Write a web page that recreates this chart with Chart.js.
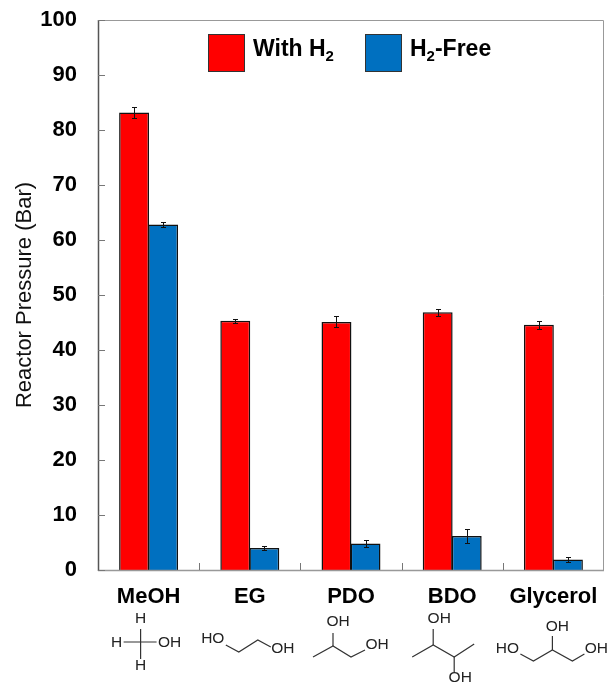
<!DOCTYPE html>
<html>
<head>
<meta charset="utf-8">
<style>
  html, body { margin: 0; padding: 0; background: #fff; }
  #wrap { position: relative; width: 608px; height: 686px; }
</style>
<script src="https://cdn.jsdelivr.net/npm/chart.js@4"></script>
</head>
<body>
<div id="wrap"><canvas id="c" width="608" height="686"></canvas></div>
<script>
'use strict';

const CATEGORIES = ['MeOH', 'EG', 'PDO', 'BDO', 'Glycerol'];
const WITH_H2 = [83.2, 45.3, 45.1, 46.85, 44.6];
const H2_FREE = [62.8, 4.0, 4.8, 6.2, 1.9];
const WITH_H2_ERR = [1.0, 0.4, 1.0, 0.6, 0.7];
const H2_FREE_ERR = [0.4, 0.4, 0.6, 1.25, 0.5];
const Y_TICKS = [0, 10, 20, 30, 40, 50, 60, 70, 80, 90, 100];

const FONT = '"Liberation Sans", Arial, sans-serif';
const RED = '#FF0000';
const BLUE = '#0070C0';

/* 構造式 — カテゴリ中心からのオフセット（px） */
const MOLECULES = [
  {
    lines: [[[-25, 642], [8, 642]], [[-8, 629], [-8, 659]]],
    atoms: [['H', -8, 619], ['H', -32, 643], ['OH', 21, 643], ['H', -8, 666]],
  },
  {
    lines: [[[-24, 645], [-11, 652], [8, 640], [21, 647]]],
    atoms: [['HO', -37, 639], ['OH', 33, 649]],
  },
  {
    lines: [[[-18, 633], [-18, 646]], [[-38, 657], [-18, 646], [0, 657], [14, 650]]],
    atoms: [['OH', -13, 622], ['OH', 26, 645]],
  },
  {
    lines: [[[-19, 629], [-19, 645]], [[-40, 657], [-19, 645], [2, 657], [22, 644]], [[2, 657], [2, 672]]],
    atoms: [['OH', -13, 619], ['OH', 8, 678]],
  },
  {
    lines: [[[-1, 636], [-1, 650]], [[-33, 654], [-20, 661], [-1, 650], [19, 661], [31, 654]]],
    atoms: [['HO', -46, 649], ['OH', 4, 627], ['OH', 43, 649]],
  },
];

const boxAndTicks = {
  id: 'boxAndTicks',
  afterDatasetsDraw(chart) {
    const { ctx, chartArea: a, scales: { x, y } } = chart;
    ctx.save();
    // 上・右・下は薄いグレー、左軸だけ濃い
    ctx.strokeStyle = '#999999';
    ctx.lineWidth = 1;
    ctx.beginPath();
    ctx.moveTo(a.left, a.top + 0.5);
    ctx.lineTo(a.right - 0.5, a.top + 0.5);
    ctx.lineTo(a.right - 0.5, a.bottom);
    ctx.stroke();
    ctx.lineWidth = 1.5;
    ctx.beginPath();
    ctx.moveTo(a.left, a.bottom + 0.5);
    ctx.lineTo(a.right, a.bottom + 0.5);
    ctx.stroke();
    ctx.strokeStyle = '#555555';
    ctx.beginPath();
    ctx.moveTo(a.left + 0.5, a.top);
    ctx.lineTo(a.left + 0.5, a.bottom + 1);
    ctx.stroke();

    ctx.lineWidth = 1;
    ctx.strokeStyle = '#777777';
    ctx.beginPath();
    Y_TICKS.forEach(v => {
      const py = Math.round(y.getPixelForValue(v)) + 0.5;
      ctx.moveTo(a.left, py);
      ctx.lineTo(a.left + 7, py);
    });
    const step = (a.right - a.left) / CATEGORIES.length;
    CATEGORIES.forEach((_, i) => {
      if (i === 0) return;
      const px = Math.round(x.getPixelForValue(i) - step / 2) + 0.5;
      ctx.moveTo(px, a.bottom);
      ctx.lineTo(px, a.bottom - 7);
    });
    ctx.stroke();
    ctx.restore();
  },
};

const errorBars = {
  id: 'errorBars',
  afterDatasetsDraw(chart) {
    const { ctx, scales: { y } } = chart;
    const errs = [WITH_H2_ERR, H2_FREE_ERR];
    ctx.save();
    ctx.strokeStyle = '#111111';
    ctx.lineWidth = 1;
    chart.data.datasets.forEach((ds, d) => {
      chart.getDatasetMeta(d).data.forEach((bar, i) => {
        const px = Math.round(bar.x) + 0.5;
        const hi = Math.round(y.getPixelForValue(ds.data[i] + errs[d][i])) + 0.5;
        const lo = Math.round(y.getPixelForValue(ds.data[i] - errs[d][i])) + 0.5;
        ctx.beginPath();
        ctx.moveTo(px, hi); ctx.lineTo(px, lo);
        ctx.moveTo(px - 2.5, hi); ctx.lineTo(px + 2.5, hi);
        ctx.moveTo(px - 2.5, lo); ctx.lineTo(px + 2.5, lo);
        ctx.stroke();
      });
    });
    ctx.restore();
  },
};

/* 凡例 — H2 の添字を出すため自前で描く */
function drawSubText(ctx, parts, x, y) {
  ctx.textAlign = 'left';
  ctx.textBaseline = 'middle';
  parts.forEach(([t, sub]) => {
    ctx.font = `bold ${sub ? 15 : 23}px ${FONT}`;
    ctx.fillText(t, x, sub ? y + 7 : y);
    x += ctx.measureText(t).width;
  });
}

const h2Legend = {
  id: 'h2Legend',
  afterDraw(chart) {
    const { ctx, chartArea: a } = chart;
    const top = a.top + 14;
    const items = [
      { left: a.left + 110, color: chart.data.datasets[0].backgroundColor, parts: [['With H'], ['2', true]] },
      { left: a.left + 267, color: chart.data.datasets[1].backgroundColor, parts: [['H'], ['2', true], ['-Free']] },
    ];
    ctx.save();
    items.forEach(it => {
      ctx.fillStyle = it.color;
      ctx.strokeStyle = '#333333';
      ctx.lineWidth = 1;
      ctx.fillRect(it.left, top, 37, 38);
      ctx.strokeRect(it.left + 0.5, top + 0.5, 36, 37);
      ctx.fillStyle = '#000';
      drawSubText(ctx, it.parts, it.left + 45, top + 16);
    });
    ctx.restore();
  },
};

const molecules = {
  id: 'molecules',
  afterDraw(chart) {
    const { ctx, scales: { x } } = chart;
    ctx.save();
    ctx.strokeStyle = '#333333';
    ctx.fillStyle = '#222222';
    ctx.lineWidth = 1.2;
    ctx.font = `15.5px ${FONT}`;
    ctx.textAlign = 'center';
    ctx.textBaseline = 'middle';
    MOLECULES.forEach((m, i) => {
      const cx = x.getPixelForValue(i);
      m.lines.forEach(pts => {
        ctx.beginPath();
        pts.forEach(([dx, py], k) => k ? ctx.lineTo(cx + dx, py) : ctx.moveTo(cx + dx, py));
        ctx.stroke();
      });
      m.atoms.forEach(([t, dx, py]) => ctx.fillText(t, cx + dx, py));
    });
    ctx.restore();
  },
};

new Chart(document.getElementById('c'), {
  type: 'bar',
  data: {
    labels: CATEGORIES,
    datasets: [
      { label: 'With H₂', data: WITH_H2, backgroundColor: RED, borderColor: '#111111', borderWidth: 1.5 },
      { label: 'H₂-Free', data: H2_FREE, backgroundColor: BLUE, borderColor: '#111111', borderWidth: 1.5 },
    ],
  },
  options: {
    responsive: false,
    animation: false,
    layout: { padding: { top: 20, right: 4, bottom: 0, left: 12 } },
    datasets: { bar: { categoryPercentage: 0.574, barPercentage: 1.03 } },
    plugins: {
      tooltip: { enabled: false },
      legend: { display: false },
    },
    scales: {
      x: {
        afterFit(s) { s.height = 116; s.paddingLeft = 0; s.paddingRight = 0; },
        grid: { display: false },
        border: { display: false },
        ticks: { color: '#000', padding: 6, maxRotation: 0, font: { family: FONT, size: 22, weight: 'bold' } },
      },
      y: {
        min: 0,
        max: 100,
        // ラベルのはみ出し分で chartArea が縮まないように
        afterFit(s) { s.width = 86; s.paddingTop = 0; s.paddingBottom = 0; },
        afterBuildTicks(s) { s.ticks = Y_TICKS.map(v => ({ value: v })); },
        grid: { display: false },
        border: { display: false },
        ticks: { color: '#000', padding: 13, font: { family: FONT, size: 22, weight: 'bold' } },
        title: { display: true, text: 'Reactor Pressure (Bar)', color: '#111', padding: 0, font: { family: FONT, size: 22 } },
      },
    },
  },
  plugins: [boxAndTicks, errorBars, h2Legend, molecules],
});
</script>
</body>
</html>
